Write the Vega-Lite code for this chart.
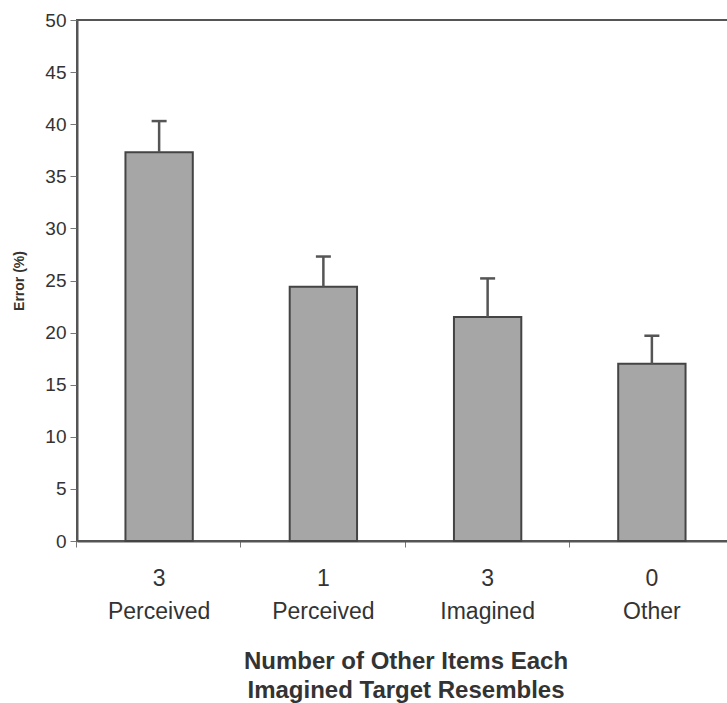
{
  "$schema": "https://vega.github.io/schema/vega-lite/v6.json",
  "autosize": "none",
  "padding": {"left": 77, "top": 20, "right": 0, "bottom": 162},
  "width": 657,
  "height": 521,
  "background": "white",
  "config": {
    "view": {"stroke": "#555", "strokeWidth": 2},
    "font": "Liberation Sans"
  },
  "data": {
    "values": [
      {"cond": "3|Perceived", "error": 37.3, "upper": 40.3},
      {"cond": "1|Perceived", "error": 24.4, "upper": 27.3},
      {"cond": "3|Imagined", "error": 21.5, "upper": 25.2},
      {"cond": "0|Other", "error": 17.0, "upper": 19.7}
    ]
  },
  "encoding": {
    "x": {
      "field": "cond",
      "type": "nominal",
      "sort": null,
      "scale": {"paddingInner": 0.59, "paddingOuter": 0.295},
      "axis": {
        "title": ["Number of Other Items Each", "Imagined Target Resembles"],
        "titleFontSize": 24,
        "titleFontWeight": "bold",
        "titleColor": "#333",
        "titleLineHeight": 29,
        "titlePadding": 26,
        "labelAngle": 0,
        "labelFontSize": 23,
        "labelColor": "#333",
        "labelLineHeight": 33,
        "labelPadding": 20,
        "labelExpr": "split(datum.value, '|')",
        "bandPosition": -0.724,
        "tickSize": 6,
        "tickColor": "#777",
        "domainWidth": 2,
        "domainColor": "#555"
      }
    }
  },
  "layer": [
    {
      "mark": {"type": "bar", "fill": "#a6a6a6", "stroke": "#444", "strokeWidth": 2},
      "encoding": {
        "y": {
          "field": "error",
          "type": "quantitative",
          "scale": {"domain": [0, 50], "nice": false},
          "axis": {
            "title": "Error (%)",
            "titleFontSize": 14,
            "titleFontWeight": "bold",
            "titleColor": "#333",
            "titlePadding": 18,
            "values": [0, 5, 10, 15, 20, 25, 30, 35, 40, 45, 50],
            "labelFontSize": 19,
            "labelColor": "#333",
            "labelPadding": 4,
            "tickSize": 7,
            "tickColor": "#777",
            "domainWidth": 2,
            "domainColor": "#555",
            "grid": false
          }
        }
      }
    },
    {
      "mark": {"type": "rule", "stroke": "#555", "strokeWidth": 2.5},
      "encoding": {
        "y": {"field": "error", "type": "quantitative"},
        "y2": {"field": "upper"}
      }
    },
    {
      "mark": {"type": "tick", "color": "#555", "size": 15, "thickness": 2.5, "opacity": 1},
      "encoding": {
        "y": {"field": "upper", "type": "quantitative"}
      }
    }
  ]
}
